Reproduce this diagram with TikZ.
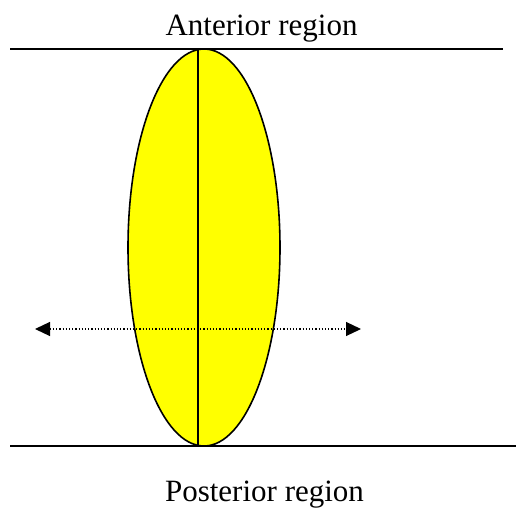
\documentclass[tikz,border=0pt]{standalone}
\usepackage{fontspec}
\setmainfont{Liberation Serif}
\usetikzlibrary{arrows.meta,shapes.geometric}
\definecolor{lensyellow}{RGB}{255,255,0}
\begin{document}
\begin{tikzpicture}[x=1pt,y=-1pt,
  bound/.style={line width=1.6pt,draw=black},
  lbl/.style={font=\fontsize{31}{36}\selectfont,anchor=base,inner sep=0pt},
  lensshape/.style={ellipse,draw=black,line width=1.6pt,fill=lensyellow,inner sep=0pt,minimum width=152pt,minimum height=397pt},
  axis/.style={line width=1.6pt,draw=black},
  arr/.style={dotted,line width=1.2pt,{Triangle[length=15pt,width=14pt]}-{Triangle[length=15pt,width=14pt]}}]
\useasboundingbox (0,0) rectangle (516,510);
\coordinate (tl) at (10,49);
\coordinate (tr) at (503,49);
\coordinate (bl) at (10,446);
\coordinate (br) at (516,446);
\draw[bound] (tl) -- (tr);
\draw[bound] (bl) -- (br);
\node[lensshape] (lens) at (204,247.5) {};
\coordinate (vt) at (198,49);
\coordinate (vb) at (198,446);
\draw[axis] (vt) -- (vb);
\coordinate (al) at (35,329);
\coordinate (ar) at (361,329);
\draw[arr] (al) -- (ar);
\node[lbl] (ant) at (261.5,36) {Anterior region};
\node[lbl] (post) at (264.5,501) {Posterior region};
\end{tikzpicture}
\end{document}
